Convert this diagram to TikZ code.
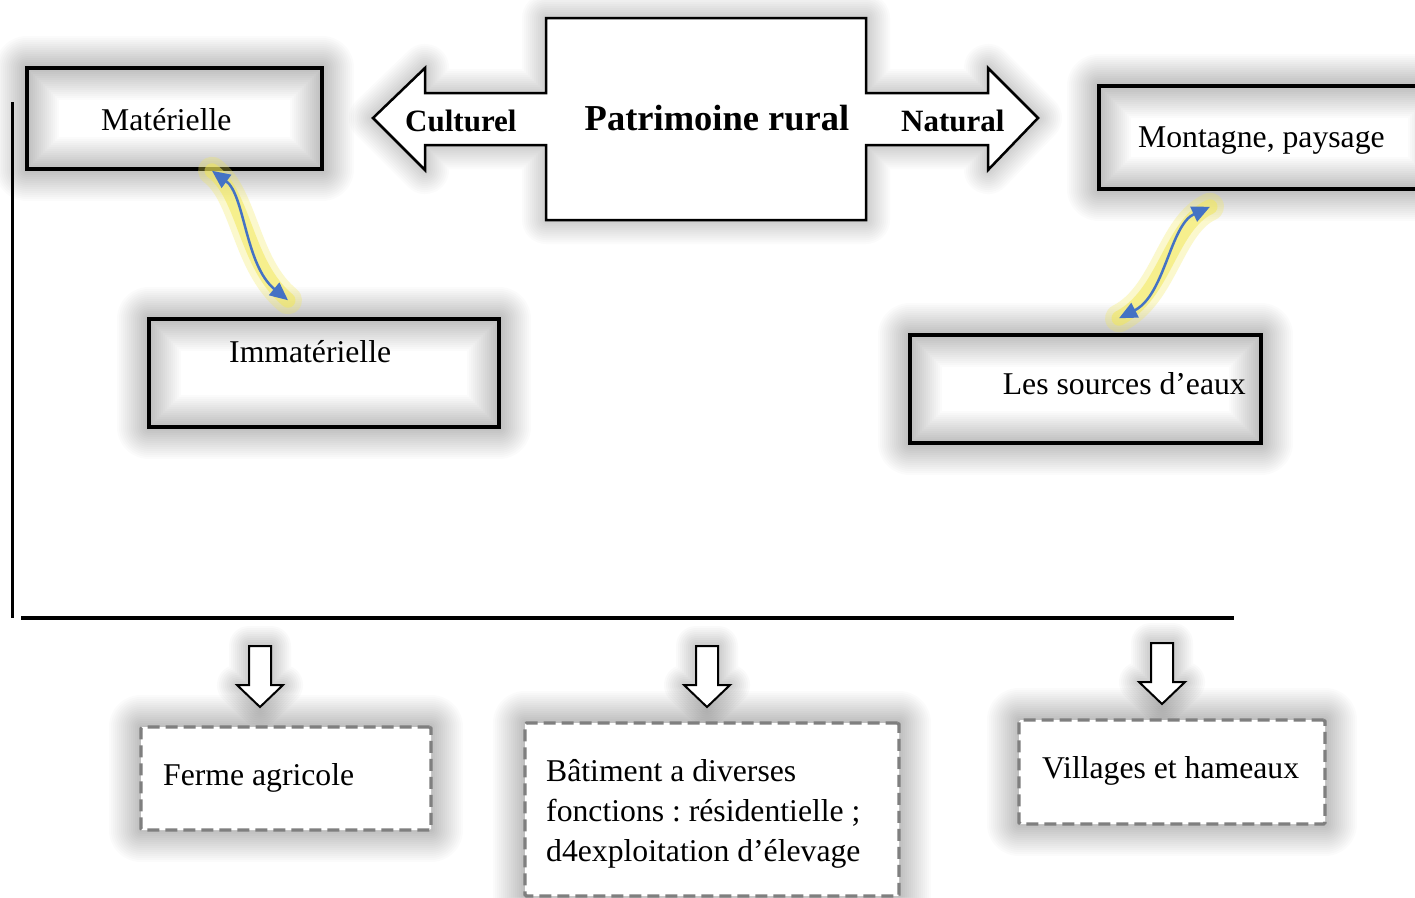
\documentclass[tikz,border=0pt]{standalone}
\usepackage{fontspec}
\setmainfont{Liberation Serif}
\usetikzlibrary{arrows.meta}
\definecolor{arrowblue}{HTML}{4472C4}
\definecolor{glowyellow}{HTML}{F2E85A}
\definecolor{dashgray}{HTML}{7F7F7F}
\newcommand\glowrect[4]{\foreach \w in {4,8,...,64}{\draw[black,draw opacity=0.015,line width=\w pt,line join=round] (#1,#2) rectangle (#3,#4);}}
\newcommand\centralshape[1]{\draw[#1] (546,18) -- (866,18) -- (866,93) -- (988,93) -- (988,68) -- (1038,118) -- (988,170) -- (988,145) -- (866,145) -- (866,220) -- (546,220) -- (546,145) -- (425,145) -- (425,170) -- (373,118) -- (425,68) -- (425,93) -- (546,93) -- cycle;}
\newcommand\blockdn[3]{\draw[#1] ({#2-11},#3) -- ({#2+11},#3) -- ({#2+11},{#3+39}) -- ({#2+23},{#3+39}) -- (#2,{#3+61}) -- ({#2-23},{#3+39}) -- ({#2-11},{#3+39}) -- cycle;}
\begin{document}
\frenchspacing
\begin{tikzpicture}[x=1pt,y=-1pt,
  solidbox/.style={draw=black,line width=3.5pt,inner sep=0pt},
  dashbox/.style={draw=dashgray,fill=white,line width=3.2pt,dash pattern=on 12pt off 6pt,inner sep=0pt,rounded corners=1.5pt},
  txt/.style={font=\fontsize{31.7}{40}\selectfont,inner sep=0pt},
  btxt/.style={font=\bfseries\fontsize{31}{40}\selectfont,inner sep=0pt},
  link/.style={draw=arrowblue,line width=2.5pt,{Triangle[length=18pt,width=16pt]}-{Triangle[length=18pt,width=16pt]},
     preaction={draw=glowyellow,draw opacity=0.3,line width=28pt,line cap=round,-},
     preaction={draw=glowyellow,draw opacity=0.55,line width=15pt,line cap=round,-}}]
\useasboundingbox (0,0) rectangle (1415,897);
\clip (0,0) rectangle (1415,897);
\fill[white] (0,0) rectangle (1415,897);

% glows
\glowrect{27}{68}{322}{169}
\glowrect{149}{319}{499}{427}
\glowrect{1099}{86}{1440}{189}
\glowrect{910}{335}{1261}{443}
\glowrect{141}{727}{431}{830}
\glowrect{525}{723}{899}{896}
\glowrect{1019}{720}{1325}{824}
\foreach \w in {4,8,...,48}{\centralshape{black,draw opacity=0.014,line width=\w pt,line join=round}}
\foreach \c/\t in {260/646,707/646,1162/643}{
  \foreach \w in {4,8,...,40}{\blockdn{black,draw opacity=0.018,line width=\w pt,line join=round}{\c}{\t}}}

% central shape
\centralshape{fill=white,draw=black,line width=2.5pt}
\node[btxt,anchor=base west] (cult) at (405,131) {Culturel};
\node[font=\bfseries\fontsize{36.5}{40}\selectfont,inner sep=0pt,anchor=base] (patr) at (717,130) {Patrimoine rural};
\node[btxt,anchor=base west] (nat) at (901,131) {Natural};

% solid boxes
\node[solidbox,minimum width=295pt,minimum height=101pt] (mat) at (174.5,118.5) {};
\node[txt,anchor=base west] (tmat) at (101,130) {Matérielle};
\node[solidbox,minimum width=350pt,minimum height=108pt] (imm) at (324,373) {};
\node[txt,anchor=base west] (timm) at (229,362) {Immatérielle};
\node[solidbox,minimum width=341pt,minimum height=103pt] (mont) at (1269.5,137.5) {};
\node[txt,anchor=base west] (tmont) at (1138,147) {Montagne, paysage};
\node[solidbox,minimum width=351pt,minimum height=108pt] (src) at (1085.5,389) {};
\node[txt,anchor=base east] (tsrc) at (1246,394) {Les sources d’eaux};

% curved links
\draw[link] ([xshift=37.5pt]mat.south) .. controls (245,195) and (245,265) .. ([xshift=-36pt,yshift=17pt]imm.north);
\draw[link] ([xshift=33.5pt,yshift=15pt]src.north) .. controls (1165,295) and (1170,225) .. ([xshift=-59.5pt,yshift=-16pt]mont.south);

% frame lines
\coordinate (vtop) at (12,102);
\coordinate (vbot) at (12,618);
\coordinate (hl) at (21,618);
\coordinate (hr) at (1234,618);
\draw[line width=3pt] (vtop) -- (vbot);
\draw[line width=4.5pt] (hl) -- (hr);

% down block arrows
\foreach \c/\t in {260/646,707/646,1162/643}{
  \blockdn{fill=white,draw=black,line width=2pt}{\c}{\t}}

% dashed boxes
\node[dashbox,minimum width=290pt,minimum height=103pt] (ferme) at (286,778.5) {};
\node[txt,anchor=base west] (tferme) at (163,785) {Ferme agricole};
\node[dashbox,minimum width=374pt,minimum height=173pt] (bat) at (712,809.5) {};
\node[txt,anchor=west,align=left] (tbat) at (546,814) {Bâtiment a diverses\\fonctions : résidentielle ;\\d4exploitation d’élevage};
\node[dashbox,minimum width=306pt,minimum height=104pt] (vill) at (1172,772) {};
\node[txt,anchor=base west] (tvill) at (1042,778) {Villages et hameaux};
\end{tikzpicture}
\end{document}
